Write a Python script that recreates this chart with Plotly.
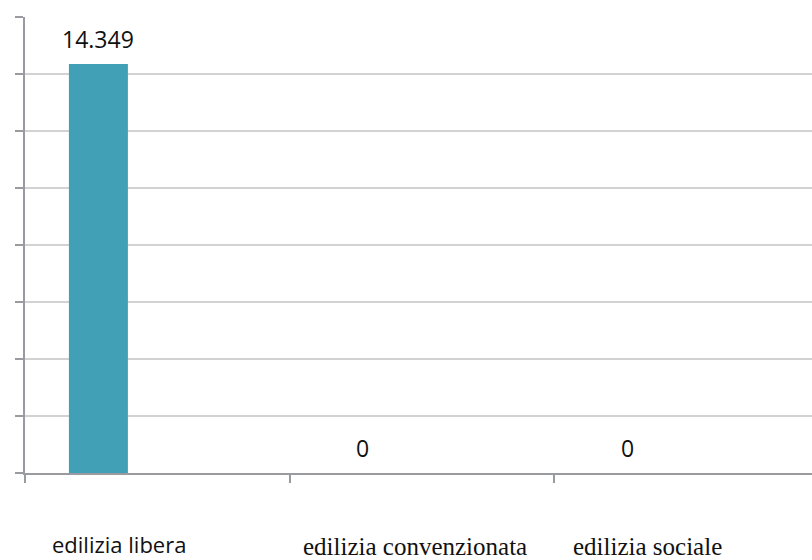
import plotly.graph_objects as go

# Housing units by type of construction
categories = ["edilizia libera", "edilizia convenzionata", "edilizia sociale"]
values = [14349, 0, 0]
y_ticks = [0, 2000, 4000, 6000, 8000, 10000, 12000, 14000, 16000]

BAR_OFFSET = -0.334
BAR_WIDTH = 0.223
AXIS_GREY = "#9a9ba0"
GRID_GREY = "#d2d2d2"


def fmt_it(v):
    return f"{v:,}".replace(",", ".")


fig = go.Figure()
fig.add_trace(go.Bar(
    x=categories,
    y=values,
    offset=BAR_OFFSET,
    width=BAR_WIDTH,
    marker=dict(color="#42a0b6", line=dict(width=0)),
    hoverinfo="skip",
))

annotations = []
# value labels above each bar
for i, v in enumerate(values):
    annotations.append(dict(
        x=i + BAR_OFFSET + BAR_WIDTH / 2, y=v, xref="x", yref="y",
        text=fmt_it(v), showarrow=False, yanchor="middle", yshift=25,
        font=dict(family="Open Sans", size=23, color="#111111"),
    ))

# category captions under the axis (mixed fonts)
caption_x = [-0.145, 0.975, 1.855]
caption_shift = [3, 0, 0]
caption_fonts = [
    dict(family="Open Sans", size=22, color="#111111"),
    dict(family="Liberation Serif", size=25, color="#111111"),
    dict(family="Liberation Serif", size=25, color="#111111"),
]
for i, name in enumerate(categories):
    annotations.append(dict(
        x=caption_x[i], y=-0.162, xref="x", yref="paper",
        text=name, showarrow=False, xanchor="center", yanchor="middle",
        yshift=caption_shift[i], font=caption_fonts[i],
    ))

fig.update_layout(
    width=812, height=560,
    margin=dict(l=25, r=0, t=17, b=87),
    paper_bgcolor="white", plot_bgcolor="white",
    showlegend=False,
    annotations=annotations,
    xaxis=dict(
        type="category", range=[-0.5, 2.475],
        showticklabels=False, ticks="outside", tickson="boundaries",
        ticklen=8, tickwidth=2, tickcolor=AXIS_GREY,
        showline=True, linecolor=AXIS_GREY, linewidth=2,
        showgrid=False, zeroline=False,
    ),
    yaxis=dict(
        range=[0, 16000], tickvals=y_ticks, showticklabels=False,
        ticks="outside", ticklen=8, tickwidth=2, tickcolor=AXIS_GREY,
        showline=True, linecolor=AXIS_GREY, linewidth=2,
        showgrid=True, gridcolor=GRID_GREY, gridwidth=2,
        zeroline=False,
    ),
)

fig.write_html("out.html")
